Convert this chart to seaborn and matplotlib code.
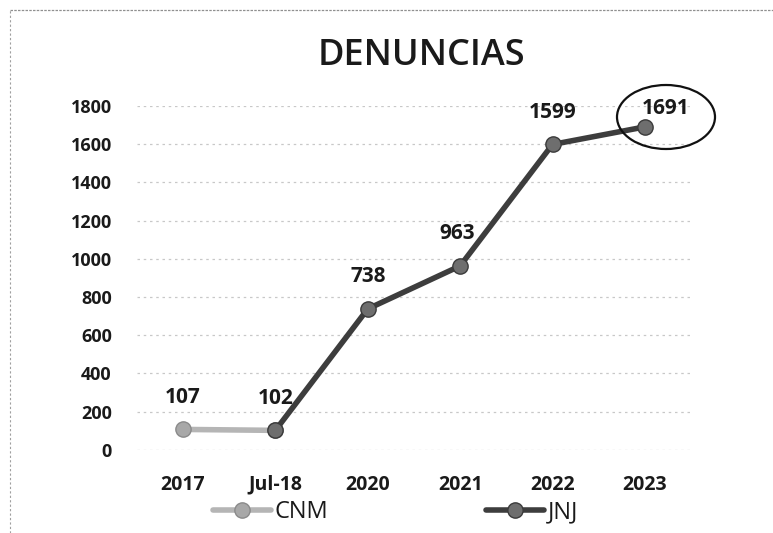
import matplotlib
matplotlib.use("Agg")
import matplotlib.pyplot as plt
from matplotlib.patches import Ellipse
from matplotlib.lines import Line2D
import seaborn as sns
import pandas as pd

years = ["2017", "Jul-18", "2020", "2021", "2022", "2023"]
cnm = [107, 102, None, None, None, None]
jnj = [None, 102, 738, 963, 1599, 1691]
yticks = [0, 200, 400, 600, 800, 1000, 1200, 1400, 1600, 1800]

sns.set_theme(style="white")
plt.rcParams['font.family'] = ['Open Sans', 'DejaVu Sans']

df = pd.DataFrame({"pos": range(len(years)), "year": years, "CNM": cnm, "JNJ": jnj})

fig = plt.figure(figsize=(7.73, 5.33), dpi=100)
ax = fig.add_axes([0.177, 0.156, 0.717, 0.645])

d1 = df.dropna(subset=["CNM"])
sns.lineplot(data=d1, x="pos", y="CNM", ax=ax, color="#b5b5b5", linewidth=4,
             marker="o", markersize=11, markerfacecolor="#a8a8a8",
             markeredgecolor="#8a8a8a", markeredgewidth=1, label="CNM", zorder=3)
d2 = df.dropna(subset=["JNJ"])
sns.lineplot(data=d2, x="pos", y="JNJ", ax=ax, color="#3d3d3d", linewidth=4,
             marker="o", markersize=11, markerfacecolor="#6e6e6e",
             markeredgecolor="#3a3a3a", markeredgewidth=1, label="JNJ", zorder=4)

# data labels
for i, row in df.iterrows():
    v = row["CNM"] if pd.notna(row["CNM"]) else row["JNJ"]
    dx, dy = 0, 23
    if row["year"] == "2023":
        dx, dy = 15, 13
    elif row["year"] == "2021":
        dx = -2
    ax.annotate(f"{int(v)}", (row["pos"], v), xytext=(dx, dy),
                textcoords="offset points", ha="center", va="center",
                fontsize=15, fontweight="bold", color="#1a1a1a", zorder=5)

ax.set_xlim(-0.5, 5.5)
ax.set_ylim(0, 1800)
ax.set_xticks(df["pos"])
ax.set_xticklabels(years)
ax.set_yticks(yticks)
ax.set_xlabel("")
ax.set_ylabel("")
ax.tick_params(axis="y", labelsize=13, pad=18, length=0, colors="#1a1a1a")
ax.tick_params(axis="x", labelsize=14, pad=18, length=0, colors="#1a1a1a")
for lab in ax.get_xticklabels() + ax.get_yticklabels():
    lab.set_fontweight("bold")
ax.yaxis.grid(True, color="#c8c8c8", linestyle=(0, (2, 3)), linewidth=0.9)
ax.xaxis.grid(False)
sns.despine(ax=ax, left=True, bottom=True)
ax.set_facecolor("none")

fig.text(0.545, 0.895, "DENUNCIAS", ha="center", va="center", fontsize=26,
         fontweight="semibold", color="#1a1a1a")

handles, labels = ax.get_legend_handles_labels()
ax.get_legend().remove()
fig.legend(handles, labels, loc="center", bbox_to_anchor=(0.512, 0.039),
           ncol=2, frameon=False, fontsize=17, handlelength=2.45,
           handletextpad=0.15, columnspacing=6.7, labelcolor="#1a1a1a")

# circle around last value
ell = Ellipse((666 / 773, 1 - 117 / 533), 98 / 773, 64 / 533,
              transform=fig.transFigure, fill=False, edgecolor="#111111",
              linewidth=1.6)
fig.add_artist(ell)

# scanned page border
fig.add_artist(Line2D([10 / 773, 10 / 773], [0, 1 - 10 / 533], transform=fig.transFigure,
                      color="#a0a0a0", linestyle=(0, (2, 2)), linewidth=0.8))
fig.add_artist(Line2D([10 / 773, 1], [1 - 10 / 533, 1 - 10 / 533], transform=fig.transFigure,
                      color="#909090", linestyle=(0, (2, 1)), linewidth=0.9))

fig.savefig("out.png", dpi=100)
